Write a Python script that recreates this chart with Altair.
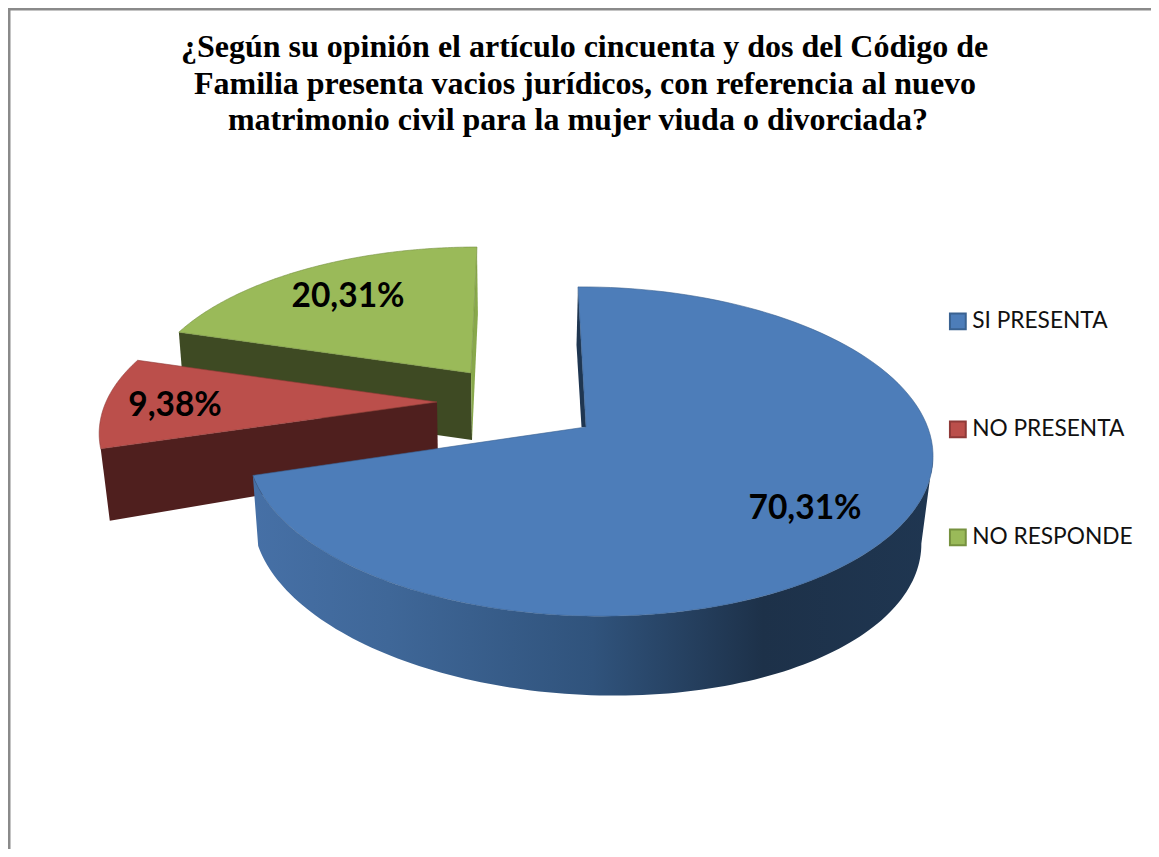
import math
import altair as alt

categories = ["SI PRESENTA", "NO PRESENTA", "NO RESPONDE"]
percentages = [70.31, 9.38, 20.31]
colors = ["#4d7db9", "#bb4f4b", "#9aba59"]
edge_colors = ["#3a6291", "#8f3a38", "#76913f"]
wall_colors = ["#4670a6", "#4f1f1e", "#3e4a23"]
title_lines = [
    "¿Según su opinión el artículo cincuenta y dos del Código de",
    "Familia presenta vacios jurídicos, con referencia al nuevo",
    "matrimonio civil para la mujer viuda o divorciada?",
]
labels = [f"{v:.2f}".replace(".", ",") + "%" for v in percentages]

# Perspective of each exploded slice on the page, in page pixels
VIEW = {
    "SI PRESENTA": dict(ax=586, ay=427, a=338.7, b=161, c=-9.2, k=0.149, m=-0.0085,
                        bx=583, by=505.8, sx=0.975, sy=1.0, g=0.025),
    "NO PRESENTA": dict(ax=437, ay=402, a=331, b=152, c=0, k=0.2, m=0,
                        bx=438, by=465, sx=0.976, sy=1.19, g=0),
    "NO RESPONDE": dict(ax=471, ay=373, a=322.5, b=147.4, c=7, k=0.17, m=0,
                        bx=472, by=440, sx=0.985, sy=1.0, g=0),
}
LABEL_POS = {"SI PRESENTA": (805, 509), "NO PRESENTA": (175, 406), "NO RESPONDE": (348, 297)}
TITLE_POS = [(584.5, 57), (585, 93.5), (578, 130)]


def top(p, th):
    X, Y = math.sin(th), math.cos(th)
    w = 1 + p["k"] * Y + p["m"] * X
    return [p["ax"] + (p["a"] * X + p["c"] * Y) / w, p["ay"] - p["b"] * Y / w]


def low(p, pt):
    dx, dy = pt[0] - p["ax"], pt[1] - p["ay"]
    return [p["bx"] + p["sx"] * dx, p["by"] + p["sy"] * dy + p["g"] * dx]


def feature(cat, ring):
    return {"type": "Feature", "properties": {"cat": cat},
            "geometry": {"type": "Polygon", "coordinates": [ring + [ring[0]]]}}


def sweep(a0, a1, n=120):
    return [a0 + (a1 - a0) * i / n for i in range(n + 1)]


projection = alt.Projection(type="identity", scale=1, translate=[-8, -8])
color_scale = alt.Scale(domain=categories, range=colors)
stroke_scale = alt.Scale(domain=categories, range=edge_colors)
legend = alt.Legend(
    title=None, orient="none", legendX=938.5, legendY=302, symbolType="square",
    symbolSize=250, symbolStrokeWidth=2, labelFont="Lato", labelFontSize=22.7,
    labelColor="#111111", rowPadding=83, labelOffset=3, labelLimit=220,
)


def shape(features, **mark):
    return alt.Chart(alt.Data(values=features)).mark_geoshape(**mark).project(**projection.to_dict())


# angles of the slices, clockwise from the top
starts = {}
acc = 0.0
for cat, v in zip(categories, percentages):
    span = v / 100 * 2 * math.pi
    starts[cat] = (acc, acc + span)
    acc += span

layers = []
border_left = [[8, 8], [10.5, 8], [10.5, 849], [8, 849]]
border_top = [[8, 8], [1151, 8], [1151, 10.5], [8, 10.5]]
layers.append(shape([feature("frame", border_left), feature("frame", border_top)],
                    fill="#8a8a8a", strokeWidth=0))

# back slices first, front slice last
for idx in [2, 1, 0]:
    cat = categories[idx]
    p = VIEW[cat]
    a0, a1 = starts[cat]
    arc = [top(p, t) for t in sweep(a0, a1)]
    apex = [p["ax"], p["ay"]]
    apex_low = [p["bx"], p["by"]]
    if idx == 0:
        wall_t = [top(p, t) for t in sweep(math.radians(100), a1)]
        wall = wall_t + [low(p, q) for q in reversed(wall_t)]
        grad = alt.Gradient(
            gradient="linear", x1=0, x2=1, y1=0, y2=0,
            stops=[
                alt.GradientStop(color="#4670a6", offset=0),
                alt.GradientStop(color="#3f6798", offset=0.2),
                alt.GradientStop(color="#30537c", offset=0.5),
                alt.GradientStop(color="#1d3149", offset=0.75),
                alt.GradientStop(color="#1f3651", offset=1),
            ],
        )
        layers.append(shape([feature(cat, wall)], fill=grad))
        far = arc[0]
        notch = [far, apex, [apex[0] - 4.5, apex[1]], [far[0] - 1.5, far[1] + 58]]
        layers.append(shape([feature(cat, notch)], fill="#1f3651"))
    else:
        corner = arc[0]
        wall = [corner, apex, apex_low, low(p, corner)]
        layers.append(shape([feature(cat, wall)], fill=wall_colors[idx]))
        if idx == 2:
            far = arc[-1]
            sliver = [far, apex, apex_low, low(p, far)]
            layers.append(shape([feature(cat, sliver)], fill="#88a84b"))
    ring = [apex] + arc
    layers.append(
        shape([feature(cat, ring)], strokeWidth=0.6).encode(
            fill=alt.Fill("properties.cat:N", scale=color_scale, legend=legend),
            stroke=alt.Stroke("properties.cat:N", scale=stroke_scale, legend=legend),
        )
    )

for cat, txt in zip(categories, labels):
    x, y = LABEL_POS[cat]
    layers.append(
        alt.Chart(alt.Data(values=[{"t": txt}]))
        .mark_text(font="Lato", fontSize=33.5, fontWeight="bold", color="#000000")
        .encode(text="t:N", x=alt.value(x - 8), y=alt.value(y - 8))
    )

for line, (x, y) in zip(title_lines, TITLE_POS):
    layers.append(
        alt.Chart(alt.Data(values=[{"t": line}]))
        .mark_text(font="Liberation Serif", fontSize=32, fontWeight="bold",
                   color="#000000", baseline="alphabetic")
        .encode(text="t:N", x=alt.value(x - 8), y=alt.value(y - 8))
    )

chart = (
    alt.layer(*layers)
    .properties(width=1143, height=841, padding=0,
                autosize=alt.AutoSizeParams(type="none"))
    .configure_view(stroke=None)
    .configure(background="#ffffff")
)
chart.save("out.html", embed_options={"renderer": "svg", "actions": False})
